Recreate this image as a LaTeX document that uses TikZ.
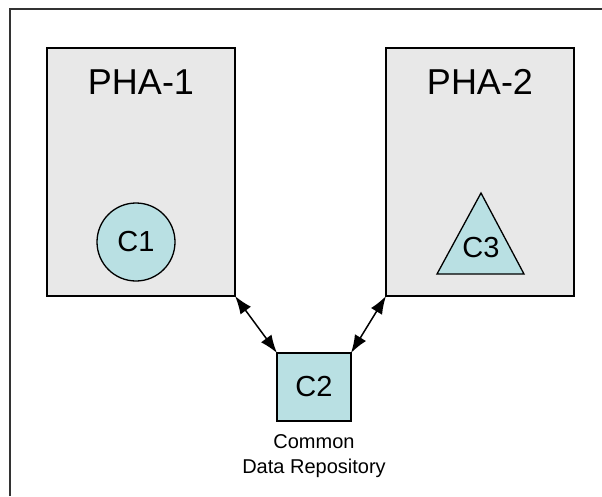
\documentclass[tikz,border=0pt]{standalone}
\usepackage{fontspec}
\setmainfont{Liberation Sans}
\usetikzlibrary{arrows.meta}
\definecolor{boxgray}{HTML}{E8E8E8}
\definecolor{compcyan}{HTML}{B9E0E3}
\begin{document}
\begin{tikzpicture}[x=1pt,y=-1pt,
pha/.style = {draw,line width=1.5pt,fill=boxgray,minimum width=188pt,minimum height=248pt,inner sep=0pt,outer sep=0pt},
ttl/.style = {font=\fontsize{36}{40}\selectfont},
comp/.style = {draw,line width=1.3pt,fill=compcyan,inner sep=0pt,outer sep=0pt,font=\fontsize{29}{32}\selectfont},
lnk/.style = {draw,line width=1.5pt,{Latex[length=18pt,width=13pt]}-{Latex[length=18pt,width=13pt]}}
]
  \useasboundingbox (0,0) rectangle (602,496);
  \draw[line width=1.5pt,black!80] (10,496) -- (10,9) -- (602,9);

  \node[pha] (pha1) at (141,172) {};
  \node[pha] (pha2) at (480,172) {};
  \node[ttl] (t1) at (141,82) {PHA-1};
  \node[ttl] (t2) at (480,82) {PHA-2};

  \node[comp,circle,minimum size=78pt] (c1) at (136,242) {C1};
  \draw[comp] (437,274) -- (481,193) -- (524,274) -- cycle;
  \node[font=\fontsize{29}{32}\selectfont] (c3) at (481,248) {C3};
  \node[comp,rectangle,minimum width=74pt,minimum height=68pt] (c2) at (314,387) {C2};
  \node[align=center,font=\fontsize{20}{25}\selectfont] (repo) at (314,456) {Common\\Data Repository};

  \path[lnk] (pha1.south east) -- (c2.north west);
  \path[lnk] (pha2.south west) -- (c2.north east);

\end{tikzpicture}
\end{document}
